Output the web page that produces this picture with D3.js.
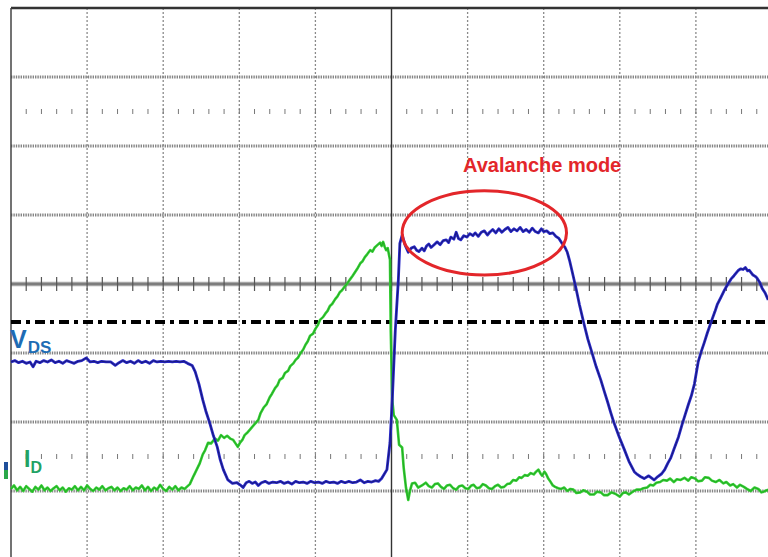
<!DOCTYPE html>
<html>
<head>
<meta charset="utf-8">
<script src="https://cdn.jsdelivr.net/npm/d3@7"></script>
<style>
  body { margin: 0; background: #fff; }
  svg { display: block; }
</style>
</head>
<body>
<div id="chart"></div>
<script>
const xDivs = [0, 1, 2, 3, 4, 5, 6, 7, 8, 9, 10];
const yDivs = [-4, -3, -2, -1, 0, 1, 2, 3, 4];
const tickRows = [2.5, -2.5];
const cursorLevel = -0.55;

const vds = [
  [0.00,-1.13],[0.05,-1.11],[0.10,-1.14],[0.15,-1.12],[0.20,-1.15],[0.25,-1.13],
  [0.29,-1.20],[0.33,-1.12],[0.38,-1.14],[0.43,-1.11],[0.48,-1.13],[0.53,-1.10],
  [0.58,-1.14],[0.63,-1.12],[0.68,-1.15],[0.73,-1.11],[0.78,-1.13],[0.83,-1.15],
  [0.88,-1.12],[0.93,-1.11],[0.99,-1.07],[1.04,-1.13],[1.09,-1.12],[1.14,-1.14],
  [1.19,-1.12],[1.25,-1.13],[1.31,-1.13],[1.37,-1.18],[1.42,-1.14],[1.47,-1.11],
  [1.52,-1.14],[1.57,-1.12],[1.62,-1.15],[1.67,-1.11],[1.72,-1.14],[1.77,-1.12],
  [1.82,-1.15],[1.87,-1.11],[1.92,-1.13],[1.97,-1.12],[2.02,-1.13],[2.07,-1.12],
  [2.12,-1.13],[2.17,-1.12],[2.22,-1.13],[2.27,-1.12],[2.32,-1.15],
  [2.38,-1.18],[2.42,-1.27],[2.47,-1.45],[2.52,-1.68],[2.56,-1.84],[2.61,-2.01],
  [2.66,-2.20],[2.71,-2.36],[2.75,-2.55],[2.79,-2.69],[2.85,-2.84],[2.91,-2.89],
  [2.97,-2.88],[3.01,-2.91],[3.05,-2.95],[3.09,-2.88],[3.13,-2.86],[3.17,-2.89],
  [3.21,-2.87],[3.25,-2.92],[3.29,-2.88],[3.34,-2.86],[3.39,-2.89],[3.44,-2.87],
  [3.49,-2.88],[3.54,-2.86],[3.59,-2.89],[3.64,-2.87],[3.69,-2.90],[3.74,-2.86],
  [3.79,-2.88],[3.84,-2.87],[3.89,-2.89],[3.94,-2.86],[3.99,-2.88],[4.04,-2.87],
  [4.09,-2.89],[4.14,-2.86],[4.19,-2.88],[4.24,-2.87],[4.29,-2.89],[4.34,-2.86],
  [4.39,-2.88],[4.44,-2.86],[4.49,-2.88],[4.54,-2.87],[4.59,-2.84],[4.64,-2.88],
  [4.69,-2.86],[4.74,-2.87],[4.79,-2.85],[4.83,-2.86],[4.87,-2.82],[4.94,-2.69],
  [4.98,-2.30],[5.01,-1.68],[5.05,-0.67],[5.09,0.06],[5.11,0.59],[5.14,0.71],
  [5.18,0.56],[5.22,0.46],[5.26,0.52],[5.30,0.54],[5.33,0.49],[5.36,0.47],
  [5.40,0.52],[5.43,0.48],[5.46,0.55],[5.49,0.58],[5.52,0.53],[5.56,0.57],
  [5.60,0.61],[5.64,0.57],[5.68,0.63],[5.72,0.64],[5.75,0.60],[5.78,0.68],
  [5.82,0.65],[5.85,0.75],[5.88,0.66],[5.91,0.64],[5.95,0.70],[5.99,0.68],
  [6.03,0.73],[6.07,0.70],[6.10,0.74],[6.14,0.69],[6.18,0.75],[6.22,0.77],
  [6.26,0.71],[6.29,0.75],[6.33,0.79],[6.37,0.74],[6.41,0.80],[6.45,0.75],
  [6.49,0.79],[6.53,0.82],[6.57,0.76],[6.61,0.80],[6.65,0.77],[6.69,0.82],
  [6.73,0.76],[6.77,0.79],[6.81,0.75],[6.85,0.81],[6.89,0.76],[6.93,0.74],
  [6.97,0.80],[7.00,0.76],[7.04,0.77],[7.08,0.73],[7.12,0.74],[7.16,0.69],
  [7.20,0.66],[7.24,0.59],[7.28,0.53],[7.31,0.46],[7.34,0.34],[7.37,0.20],
  [7.42,-0.04],[7.47,-0.30],[7.53,-0.58],[7.58,-0.80],[7.63,-0.98],[7.69,-1.20],
  [7.75,-1.39],[7.80,-1.57],[7.84,-1.71],[7.88,-1.86],[7.92,-2.00],[7.99,-2.21],
  [8.06,-2.40],[8.12,-2.57],[8.19,-2.72],[8.23,-2.76],[8.27,-2.79],[8.32,-2.82],
  [8.38,-2.78],[8.45,-2.84],[8.50,-2.79],[8.55,-2.75],[8.59,-2.69],[8.63,-2.60],
  [8.67,-2.52],[8.71,-2.40],[8.77,-2.22],[8.82,-2.03],[8.86,-1.89],[8.90,-1.75],
  [8.94,-1.62],[8.98,-1.45],[9.03,-1.13],[9.07,-0.98],[9.11,-0.85],[9.15,-0.71],
  [9.21,-0.52],[9.25,-0.40],[9.28,-0.30],[9.33,-0.19],[9.37,-0.10],[9.40,-0.04],
  [9.46,0.07],[9.50,0.12],[9.53,0.16],[9.56,0.20],[9.59,0.22],[9.62,0.21],
  [9.65,0.24],[9.68,0.19],[9.70,0.20],[9.75,0.13],[9.78,0.11],[9.80,0.09],
  [9.84,0.02],[9.87,-0.06],[9.91,-0.13],[9.95,-0.23]
];

const id = [
  [0.00,-2.97],[0.04,-2.92],[0.08,-2.99],[0.12,-2.94],[0.16,-3.00],[0.20,-2.93],
  [0.24,-2.97],[0.28,-3.01],[0.32,-2.94],[0.36,-2.98],[0.40,-2.92],[0.44,-2.99],
  [0.48,-2.95],[0.52,-3.00],[0.56,-2.96],[0.60,-2.93],[0.64,-2.99],[0.68,-2.95],
  [0.72,-3.01],[0.76,-2.96],[0.80,-2.98],[0.84,-2.93],[0.88,-2.99],[0.92,-2.94],
  [0.96,-2.99],[1.00,-2.92],[1.04,-2.97],[1.08,-3.00],[1.12,-2.95],[1.16,-2.98],
  [1.20,-2.93],[1.24,-2.99],[1.28,-2.96],[1.32,-2.94],[1.36,-2.99],[1.40,-2.95],
  [1.44,-3.00],[1.48,-2.96],[1.52,-2.98],[1.56,-2.93],[1.60,-2.99],[1.64,-2.95],
  [1.68,-2.97],[1.72,-2.92],[1.76,-2.99],[1.80,-2.94],[1.84,-3.00],[1.88,-2.95],
  [1.92,-2.98],[1.96,-2.91],[2.00,-2.97],[2.04,-3.00],[2.08,-2.94],[2.12,-2.98],
  [2.16,-2.93],[2.20,-2.99],[2.24,-2.95],[2.28,-2.97],[2.31,-2.94],
  [2.35,-2.90],[2.40,-2.78],[2.44,-2.69],[2.48,-2.60],[2.52,-2.47],[2.55,-2.41],
  [2.59,-2.30],[2.63,-2.31],[2.68,-2.24],[2.72,-2.27],[2.76,-2.19],[2.80,-2.23],
  [2.84,-2.20],[2.88,-2.24],[2.92,-2.26],[2.95,-2.31],[2.98,-2.36],[3.01,-2.30],
  [3.04,-2.26],[3.07,-2.19],[3.10,-2.16],[3.14,-2.11],[3.17,-2.07],[3.21,-2.02],
  [3.25,-1.97],[3.28,-1.87],[3.32,-1.79],[3.36,-1.74],[3.40,-1.64],[3.43,-1.59],
  [3.47,-1.51],[3.50,-1.47],[3.53,-1.39],[3.57,-1.36],[3.60,-1.29],[3.64,-1.26],
  [3.67,-1.19],[3.71,-1.15],[3.74,-1.10],[3.77,-1.07],[3.80,-1.01],[3.84,-0.95],
  [3.87,-0.88],[3.90,-0.83],[3.93,-0.75],[3.97,-0.72],[4.00,-0.65],[4.03,-0.60],
  [4.06,-0.52],[4.10,-0.48],[4.13,-0.43],[4.16,-0.39],[4.19,-0.32],[4.22,-0.29],
  [4.26,-0.22],[4.29,-0.18],[4.32,-0.12],[4.35,-0.09],[4.39,-0.03],[4.42,0.01],
  [4.45,0.06],[4.49,0.12],[4.52,0.17],[4.55,0.22],[4.59,0.30],[4.62,0.33],
  [4.65,0.39],[4.68,0.43],[4.72,0.49],[4.75,0.47],[4.78,0.53],[4.81,0.56],
  [4.85,0.60],[4.87,0.55],[4.89,0.61],[4.91,0.54],[4.93,0.49],[4.95,0.52],
  [4.98,0.35],[4.99,-0.67],[5.01,-1.68],[5.03,-1.90],[5.07,-1.97],[5.10,-2.33],
  [5.14,-2.37],[5.16,-2.66],[5.19,-2.95],[5.22,-3.13],[5.24,-3.01],[5.27,-2.89],
  [5.31,-2.88],[5.35,-2.95],[5.40,-2.92],[5.45,-2.88],[5.49,-2.93],[5.53,-2.95],
  [5.57,-2.90],[5.61,-2.89],[5.65,-2.94],[5.69,-2.97],[5.73,-2.92],[5.77,-2.91],
  [5.81,-2.96],[5.85,-2.98],[5.89,-2.93],[5.93,-2.92],[5.97,-2.96],[6.01,-2.97],
  [6.05,-2.92],[6.08,-2.91],[6.12,-2.96],[6.16,-2.95],[6.20,-2.90],[6.24,-2.92],
  [6.28,-2.96],[6.32,-2.97],[6.36,-2.93],[6.40,-2.91],[6.44,-2.95],[6.48,-2.94],
  [6.52,-2.90],[6.56,-2.89],[6.60,-2.84],[6.64,-2.85],[6.68,-2.80],[6.71,-2.81],
  [6.75,-2.77],[6.79,-2.78],[6.83,-2.74],[6.87,-2.76],[6.90,-2.72],[6.93,-2.69],
  [6.96,-2.75],[6.98,-2.78],[7.01,-2.72],[7.03,-2.75],[7.06,-2.82],[7.08,-2.85],
  [7.12,-2.92],[7.15,-2.94],[7.19,-2.96],[7.23,-2.97],[7.27,-2.95],[7.31,-3.00],
  [7.35,-2.97],[7.39,-2.98],[7.43,-3.03],[7.48,-3.02],[7.52,-2.99],[7.57,-3.01],
  [7.61,-3.05],[7.66,-3.05],[7.70,-3.01],[7.75,-3.02],[7.79,-3.06],[7.84,-3.06],
  [7.89,-3.02],[7.94,-3.04],[8.00,-3.08],[8.04,-3.03],[8.08,-3.02],[8.12,-3.05],
  [8.17,-3.01],[8.22,-2.98],[8.27,-2.98],[8.31,-2.96],[8.36,-2.95],[8.40,-2.91],
  [8.44,-2.92],[8.48,-2.88],[8.53,-2.87],[8.57,-2.84],[8.62,-2.85],[8.66,-2.82],
  [8.71,-2.87],[8.75,-2.83],[8.80,-2.84],[8.85,-2.81],[8.90,-2.85],[8.94,-2.80],
  [8.99,-2.82],[9.03,-2.86],[9.08,-2.85],[9.12,-2.80],[9.17,-2.81],[9.21,-2.85],
  [9.26,-2.87],[9.31,-2.84],[9.36,-2.89],[9.40,-2.87],[9.45,-2.92],[9.49,-2.90],
  [9.54,-2.95],[9.58,-2.91],[9.63,-2.94],[9.67,-2.97],[9.72,-3.00],[9.77,-2.95],
  [9.82,-2.97],[9.86,-3.02],[9.89,-3.01],[9.95,-2.98]
];

// annotation: ellipse round the avalanche plateau, label above it
const ring = { t: 6.22, v: 0.74, rt: 1.08, rv: 0.61 };
const note = { t: 5.94, v: 1.62, text: "Avalanche mode" };

const W = 768, H = 557;

const svg = d3.select("#chart")
    .append("svg")
    .attr("width", W)
    .attr("height", H);

const x = d3.scaleLinear().domain([0, 10]).range([11, 772]);
const y = d3.scaleLinear().domain([-4, 4]).range([560, 8]);

// graticule
const grid = svg.append("g");

grid.selectAll(".vgrid")
    .data(xDivs.filter(d => d > 0 && d < 10 && d !== 5))
    .enter()
    .append("line")
    .attr("x1", d => x(d)).attr("x2", d => x(d))
    .attr("y1", y(4)).attr("y2", H)
    .attr("stroke", "#8a8a8a")
    .attr("stroke-width", 1.3)
    .attr("stroke-dasharray", "2,2");

grid.selectAll(".hgrid")
    .data(yDivs.filter(d => d > -4 && d < 4 && d !== 0))
    .enter()
    .append("line")
    .attr("x1", x(0)).attr("x2", W)
    .attr("y1", d => y(d)).attr("y2", d => y(d))
    .attr("stroke", "#858585")
    .attr("stroke-width", 3)
    .attr("stroke-dasharray", "1.4,1");

// small tick rows and minor ticks on the centre line
const minor = d3.range(1, 51).map(i => i / 5);

tickRows.forEach(r => {
    grid.selectAll(null)
        .data(minor)
        .enter()
        .append("line")
        .attr("x1", d => x(d)).attr("x2", d => x(d))
        .attr("y1", y(r) - 2.5).attr("y2", y(r) + 2.5)
        .attr("stroke", "#777")
        .attr("stroke-width", 1);
});

grid.append("line")
    .attr("x1", x(0)).attr("x2", W)
    .attr("y1", y(0)).attr("y2", y(0))
    .attr("stroke", "#a6a6a6")
    .attr("stroke-width", 4.5);

grid.append("line")
    .attr("x1", x(0)).attr("x2", W)
    .attr("y1", y(0)).attr("y2", y(0))
    .attr("stroke", "#555")
    .attr("stroke-width", 1);

grid.selectAll(".ctick")
    .data(minor)
    .enter()
    .append("line")
    .attr("x1", d => x(d)).attr("x2", d => x(d))
    .attr("y1", y(0) - 7).attr("y2", y(0) + 7)
    .attr("stroke", "#555")
    .attr("stroke-width", 1.2);

grid.append("line")
    .attr("x1", x(5)).attr("x2", x(5))
    .attr("y1", y(4)).attr("y2", H)
    .attr("stroke", "#333")
    .attr("stroke-width", 1.4);

// frame (right and bottom edges are cut off in the screenshot)
grid.append("line")
    .attr("x1", x(0)).attr("x2", W)
    .attr("y1", y(4)).attr("y2", y(4))
    .attr("stroke", "#333")
    .attr("stroke-width", 2.5);

grid.append("line")
    .attr("x1", x(0)).attr("x2", x(0))
    .attr("y1", y(4)).attr("y2", H)
    .attr("stroke", "#444")
    .attr("stroke-width", 1.5);

// cursor line
svg.append("line")
    .attr("x1", x(0)).attr("x2", W)
    .attr("y1", y(cursorLevel)).attr("y2", y(cursorLevel))
    .attr("stroke", "#000")
    .attr("stroke-width", 4)
    .attr("stroke-dasharray", "10,5,4,5");

// traces
const line = d3.line()
    .x(d => x(d[0]))
    .y(d => y(d[1]));

svg.append("path").datum(id)
    .attr("fill", "none")
    .attr("stroke", "#35d035")
    .attr("stroke-width", 2.6)
    .attr("stroke-linejoin", "round")
    .attr("d", line);

svg.append("path").datum(id)
    .attr("fill", "none")
    .attr("stroke", "#1f9e1f")
    .attr("stroke-width", 0.8)
    .attr("d", line);

svg.append("path").datum(vds)
    .attr("fill", "none")
    .attr("stroke", "#2828c8")
    .attr("stroke-width", 2.8)
    .attr("stroke-linejoin", "round")
    .attr("d", line);

svg.append("path").datum(vds)
    .attr("fill", "none")
    .attr("stroke", "#17176e")
    .attr("stroke-width", 0.9)
    .attr("d", line);

// channel labels
const vLabel = svg.append("text")
    .attr("x", 10)
    .attr("y", 348)
    .style("font-family", "Liberation Sans, Arial, sans-serif")
    .style("font-weight", "700")
    .style("fill", "#1e6cb4");
vLabel.append("tspan").style("font-size", "25px").text("V");
vLabel.append("tspan").attr("dx", 1).attr("dy", 5).style("font-size", "17px").text("DS");

const iLabel = svg.append("text")
    .attr("x", 24)
    .attr("y", 467)
    .style("font-family", "Liberation Sans, Arial, sans-serif")
    .style("font-weight", "700")
    .style("fill", "#22a264");
iLabel.append("tspan").style("font-size", "23px").text("I");
iLabel.append("tspan").attr("dy", 6).style("font-size", "16px").text("D");

// ground marker at the left edge
svg.append("rect")
    .attr("x", 4).attr("y", 462).attr("width", 4).attr("height", 8)
    .attr("fill", "#1f4f9a");
svg.append("rect")
    .attr("x", 4).attr("y", 470).attr("width", 4).attr("height", 9)
    .attr("fill", "#2aa84a");

// annotation
svg.append("ellipse")
    .attr("cx", x(ring.t))
    .attr("cy", y(ring.v))
    .attr("rx", x(ring.rt) - x(0))
    .attr("ry", y(0) - y(ring.rv))
    .attr("fill", "none")
    .attr("stroke", "#e3262a")
    .attr("stroke-width", 3);

svg.append("text")
    .attr("x", x(note.t))
    .attr("y", y(note.v))
    .style("font-family", "Liberation Sans, Arial, sans-serif")
    .style("font-weight", "700")
    .style("font-size", "20px")
    .style("fill", "#e3262a")
    .text(note.text);
</script>
</body>
</html>
